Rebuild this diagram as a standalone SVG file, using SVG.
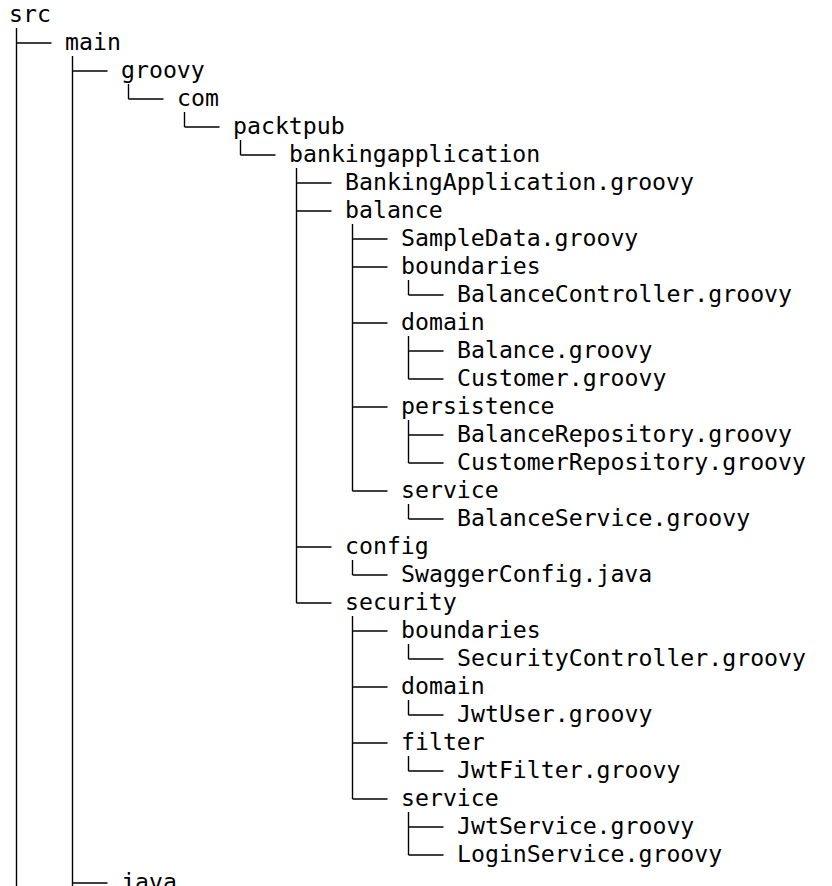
<svg xmlns="http://www.w3.org/2000/svg" width="832" height="886" viewBox="0 0 832 886">
<style>
text{font-family:"DejaVu Sans Mono","Liberation Mono",monospace;font-size:23.2px;fill:#000}
.c line{stroke:#000;stroke-width:1.4;fill:none}
</style>
<rect width="832" height="886" fill="#fff"/>
<g id="connectors" class="c">
<line x1="16.5" y1="28" x2="16.5" y2="886"/>
<line x1="72.5" y1="56" x2="72.5" y2="886"/>
<line x1="128.5" y1="84" x2="128.5" y2="99"/>
<line x1="184.5" y1="112" x2="184.5" y2="127"/>
<line x1="240.5" y1="140" x2="240.5" y2="155"/>
<line x1="296.5" y1="168" x2="296.5" y2="603"/>
<line x1="352.5" y1="224" x2="352.5" y2="491"/>
<line x1="408.5" y1="280" x2="408.5" y2="295"/>
<line x1="408.5" y1="336" x2="408.5" y2="379"/>
<line x1="408.5" y1="420" x2="408.5" y2="463"/>
<line x1="408.5" y1="504" x2="408.5" y2="519"/>
<line x1="352.5" y1="560" x2="352.5" y2="575"/>
<line x1="352.5" y1="616" x2="352.5" y2="799"/>
<line x1="408.5" y1="644" x2="408.5" y2="659"/>
<line x1="408.5" y1="700" x2="408.5" y2="715"/>
<line x1="408.5" y1="756" x2="408.5" y2="771"/>
<line x1="408.5" y1="812" x2="408.5" y2="855"/>
<line x1="16.5" y1="43" x2="51.5" y2="43"/>
<line x1="72.5" y1="71" x2="107.5" y2="71"/>
<line x1="128.5" y1="99" x2="163.5" y2="99"/>
<line x1="184.5" y1="127" x2="219.5" y2="127"/>
<line x1="240.5" y1="155" x2="275.5" y2="155"/>
<line x1="296.5" y1="183" x2="331.5" y2="183"/>
<line x1="296.5" y1="211" x2="331.5" y2="211"/>
<line x1="352.5" y1="239" x2="387.5" y2="239"/>
<line x1="352.5" y1="267" x2="387.5" y2="267"/>
<line x1="408.5" y1="295" x2="443.5" y2="295"/>
<line x1="352.5" y1="323" x2="387.5" y2="323"/>
<line x1="408.5" y1="351" x2="443.5" y2="351"/>
<line x1="408.5" y1="379" x2="443.5" y2="379"/>
<line x1="352.5" y1="407" x2="387.5" y2="407"/>
<line x1="408.5" y1="435" x2="443.5" y2="435"/>
<line x1="408.5" y1="463" x2="443.5" y2="463"/>
<line x1="352.5" y1="491" x2="387.5" y2="491"/>
<line x1="408.5" y1="519" x2="443.5" y2="519"/>
<line x1="296.5" y1="547" x2="331.5" y2="547"/>
<line x1="352.5" y1="575" x2="387.5" y2="575"/>
<line x1="296.5" y1="603" x2="331.5" y2="603"/>
<line x1="352.5" y1="631" x2="387.5" y2="631"/>
<line x1="408.5" y1="659" x2="443.5" y2="659"/>
<line x1="352.5" y1="687" x2="387.5" y2="687"/>
<line x1="408.5" y1="715" x2="443.5" y2="715"/>
<line x1="352.5" y1="743" x2="387.5" y2="743"/>
<line x1="408.5" y1="771" x2="443.5" y2="771"/>
<line x1="352.5" y1="799" x2="387.5" y2="799"/>
<line x1="408.5" y1="827" x2="443.5" y2="827"/>
<line x1="408.5" y1="855" x2="443.5" y2="855"/>
<line x1="72.5" y1="883" x2="107.5" y2="883"/>
</g>
<g id="n-src"><text x="9" y="22">src</text></g>
<g id="n-main"><text x="65" y="50">main</text></g>
<g id="n-groovy"><text x="121" y="78">groovy</text></g>
<g id="n-com"><text x="177" y="106">com</text></g>
<g id="n-packtpub"><text x="233" y="134">packtpub</text></g>
<g id="n-bankingapplication"><text x="289" y="162">bankingapplication</text></g>
<g id="n-BankingApplication"><text x="345" y="190">BankingApplication.groovy</text></g>
<g id="n-balance"><text x="345" y="218">balance</text></g>
<g id="n-SampleData"><text x="401" y="246">SampleData.groovy</text></g>
<g id="n-balance-boundaries"><text x="401" y="274">boundaries</text></g>
<g id="n-BalanceController"><text x="457" y="302">BalanceController.groovy</text></g>
<g id="n-balance-domain"><text x="401" y="330">domain</text></g>
<g id="n-Balance"><text x="457" y="358">Balance.groovy</text></g>
<g id="n-Customer"><text x="457" y="386">Customer.groovy</text></g>
<g id="n-persistence"><text x="401" y="414">persistence</text></g>
<g id="n-BalanceRepository"><text x="457" y="442">BalanceRepository.groovy</text></g>
<g id="n-CustomerRepository"><text x="457" y="470">CustomerRepository.groovy</text></g>
<g id="n-balance-service"><text x="401" y="498">service</text></g>
<g id="n-BalanceService"><text x="457" y="526">BalanceService.groovy</text></g>
<g id="n-config"><text x="345" y="554">config</text></g>
<g id="n-SwaggerConfig"><text x="401" y="582">SwaggerConfig.java</text></g>
<g id="n-security"><text x="345" y="610">security</text></g>
<g id="n-security-boundaries"><text x="401" y="638">boundaries</text></g>
<g id="n-SecurityController"><text x="457" y="666">SecurityController.groovy</text></g>
<g id="n-security-domain"><text x="401" y="694">domain</text></g>
<g id="n-JwtUser"><text x="457" y="722">JwtUser.groovy</text></g>
<g id="n-filter"><text x="401" y="750">filter</text></g>
<g id="n-JwtFilter"><text x="457" y="778">JwtFilter.groovy</text></g>
<g id="n-security-service"><text x="401" y="806">service</text></g>
<g id="n-JwtService"><text x="457" y="834">JwtService.groovy</text></g>
<g id="n-LoginService"><text x="457" y="862">LoginService.groovy</text></g>
<g id="n-java"><text x="121" y="890">java</text></g>
</svg>
